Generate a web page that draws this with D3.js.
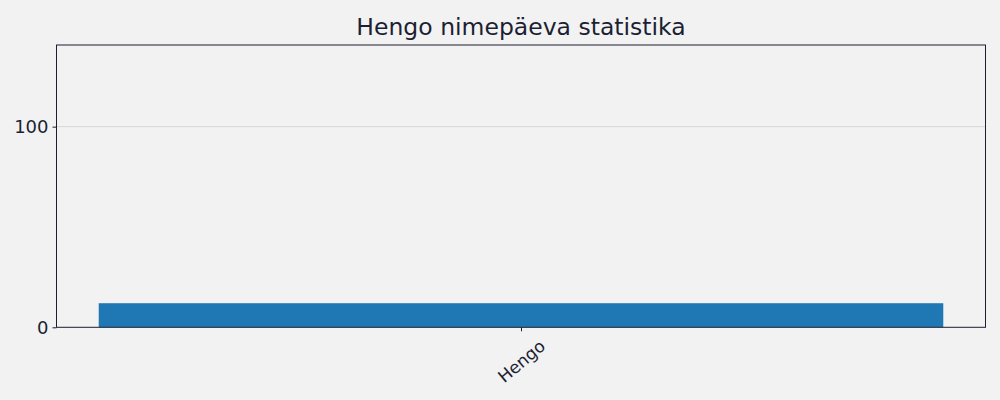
<!DOCTYPE html>
<html><head><meta charset="utf-8">
<script src="https://cdn.jsdelivr.net/npm/d3@7"></script>
<style>body{margin:0;background:#f2f2f2;font-family:"DejaVu Sans",sans-serif;}</style>
</head><body><svg id="c" width="1000" height="400"></svg>
<script>
const categories = ["Hengo"];
const values = [12];
const yTicks = [0, 100];
const title = "Hengo nimepäeva statistika";

const svg = d3.select("#c");
const m = {l:56.5, r:985.5, t:45, b:327.3};
const ink = "#1c1f33";
svg.append("rect").attr("width",1000).attr("height",400).attr("fill","#f2f2f2");

const x = d3.scaleLinear().domain([-0.44, categories.length - 1 + 0.44]).range([m.l, m.r]);
const y = d3.scaleLinear().domain([0, 140.7]).range([m.b, m.t]);

// grid
svg.append("g").selectAll("line").data(yTicks.filter(d=>d>0)).join("line")
  .attr("x1", m.l).attr("x2", m.r).attr("y1", d=>y(d)).attr("y2", d=>y(d))
  .attr("stroke","#d6d6d6").attr("stroke-width",1);

// bars
svg.append("g").selectAll("rect").data(values).join("rect")
  .attr("x",(d,i)=>x(i-0.4)).attr("width",(d,i)=>x(i+0.4)-x(i-0.4))
  .attr("y",d=>y(d)).attr("height",d=>y(0)-y(d)).attr("fill","#1f77b4");

// frame
svg.append("rect").attr("x",m.l).attr("y",m.t).attr("width",m.r-m.l).attr("height",m.b-m.t)
  .attr("fill","none").attr("stroke",ink).attr("stroke-width",1);

// y axis
const ya = svg.append("g").attr("transform",`translate(${m.l},0)`)
  .call(d3.axisLeft(y).tickValues(yTicks).tickSize(4).tickPadding(4).tickFormat(d3.format("d")));
ya.select(".domain").remove();
ya.selectAll("line").attr("stroke",ink);
ya.selectAll("text").attr("fill",ink).style("font-size","18px").style("font-family","DejaVu Sans");

// x axis
const xa = svg.append("g").attr("transform",`translate(0,${m.b})`)
  .call(d3.axisBottom(x).tickValues(d3.range(categories.length)).tickSize(4).tickFormat(i=>categories[i]));
xa.select(".domain").remove();
xa.selectAll("line").attr("stroke",ink);
xa.selectAll("text").attr("fill",ink).style("font-size","17px").style("font-family","DejaVu Sans")
  .attr("text-anchor","middle").attr("dy","0.35em").attr("y",0)
  .attr("transform","translate(0,34) rotate(-40)");

svg.append("text").attr("x",(m.l+m.r)/2).attr("y",35).attr("text-anchor","middle")
  .attr("fill",ink).style("font-size","23.5px").style("font-family","DejaVu Sans").text(title);
</script></body></html>
